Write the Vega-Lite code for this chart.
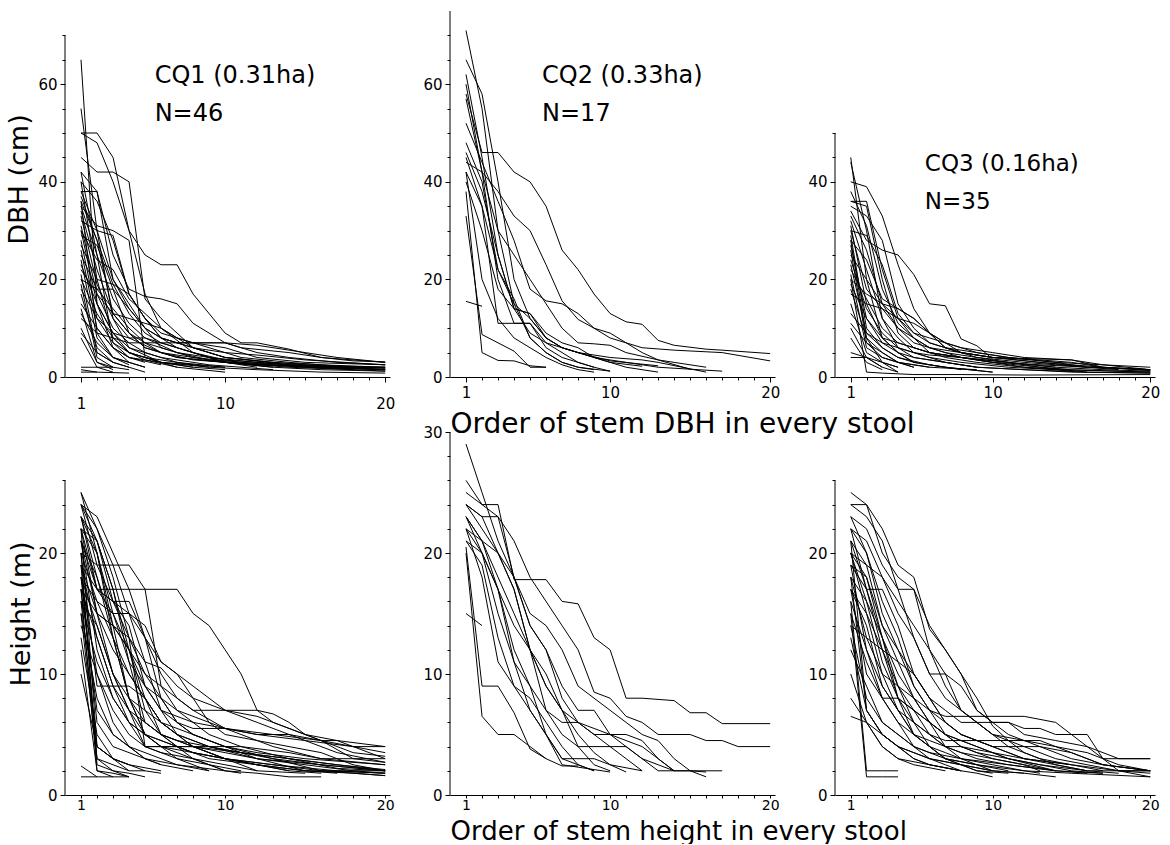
{
"$schema":"https://vega.github.io/schema/vega-lite/v6.json",
"background":"white",
"padding":{"left":5,"top":10,"right":5,"bottom":0},
"config":{"view":{"stroke":null},"axis":{"grid":false,"domainColor":"black","domainWidth":1,"tickColor":"black","tickWidth":1,"labelColor":"black","titleColor":"black","labelFont":"DejaVu Sans","titleFont":"DejaVu Sans","labelFontSize":15,"titleFontWeight":"normal","labelPadding":3,"labelFlush":false,"labelOverlap":false,"tickCount":100}},
"datasets":{
"a":[
{"s":1,"x":1,"y":65},{"s":1,"x":2,"y":15},{"s":1,"x":3,"y":6},{"s":1,"x":4,"y":3},{"s":1,"x":5,"y":2},
{"s":2,"x":1,"y":55},{"s":2,"x":2,"y":30},{"s":2,"x":3,"y":12},{"s":2,"x":4,"y":6},{"s":2,"x":6,"y":3},{"s":2,"x":8,"y":2},{"s":2,"x":10,"y":1.5},
{"s":3,"x":1,"y":50},{"s":3,"x":2,"y":50},{"s":3,"x":3,"y":45},{"s":3,"x":4,"y":30},{"s":3,"x":5,"y":17},{"s":3,"x":6,"y":10},{"s":3,"x":8,"y":5},{"s":3,"x":10,"y":3},{"s":3,"x":13,"y":2},{"s":3,"x":16,"y":1.5},{"s":3,"x":20,"y":1.2},
{"s":4,"x":1,"y":45},{"s":4,"x":2,"y":42},{"s":4,"x":3,"y":42},{"s":4,"x":4,"y":40},{"s":4,"x":5,"y":16},{"s":4,"x":6,"y":12},{"s":4,"x":8,"y":6},{"s":4,"x":10,"y":4},{"s":4,"x":14,"y":2.5},{"s":4,"x":20,"y":1.5},
{"s":5,"x":1,"y":50},{"s":5,"x":2,"y":48},{"s":5,"x":3,"y":40},{"s":5,"x":4,"y":30},{"s":5,"x":5,"y":25},{"s":5,"x":6,"y":23},{"s":5,"x":7,"y":23},{"s":5,"x":8,"y":17},{"s":5,"x":10,"y":9},{"s":5,"x":11,"y":7},{"s":5,"x":12,"y":7},{"s":5,"x":14,"y":5.7},{"s":5,"x":16,"y":4},{"s":5,"x":18,"y":3.3},{"s":5,"x":20,"y":3.1},
{"s":6,"x":1,"y":42},{"s":6,"x":2,"y":38},{"s":6,"x":3,"y":25},{"s":6,"x":4,"y":18},{"s":6,"x":5,"y":16.5},{"s":6,"x":6,"y":16},{"s":6,"x":7,"y":15},{"s":6,"x":8,"y":11},{"s":6,"x":9,"y":9},{"s":6,"x":10,"y":7},{"s":6,"x":12,"y":6.5},{"s":6,"x":15,"y":5},{"s":6,"x":17,"y":4},{"s":6,"x":20,"y":3},
{"s":7,"x":1,"y":40},{"s":7,"x":2,"y":36},{"s":7,"x":3,"y":28},{"s":7,"x":4,"y":17},{"s":7,"x":5,"y":12},{"s":7,"x":6,"y":9},{"s":7,"x":8,"y":7},{"s":7,"x":10,"y":7},{"s":7,"x":12,"y":5},{"s":7,"x":14,"y":4},{"s":7,"x":17,"y":3},{"s":7,"x":20,"y":2.5},
{"s":8,"x":1,"y":38},{"s":8,"x":2,"y":30},{"s":8,"x":3,"y":20},{"s":8,"x":4,"y":14},{"s":8,"x":5,"y":10},{"s":8,"x":6,"y":8},{"s":8,"x":8,"y":6},{"s":8,"x":10,"y":4},{"s":8,"x":13,"y":3},{"s":8,"x":16,"y":2.5},{"s":8,"x":20,"y":2},
{"s":9,"x":1,"y":36},{"s":9,"x":2,"y":28},{"s":9,"x":3,"y":19},{"s":9,"x":4,"y":13},{"s":9,"x":5,"y":9},{"s":9,"x":6,"y":7},{"s":9,"x":8,"y":5},{"s":9,"x":10,"y":3.5},{"s":9,"x":14,"y":2.5},{"s":9,"x":20,"y":2},
{"s":10,"x":1,"y":35},{"s":10,"x":2,"y":25},{"s":10,"x":3,"y":16},{"s":10,"x":4,"y":11},{"s":10,"x":5,"y":8},{"s":10,"x":7,"y":5},{"s":10,"x":9,"y":3.5},{"s":10,"x":12,"y":2.5},{"s":10,"x":20,"y":1.5},
{"s":11,"x":1,"y":34},{"s":11,"x":2,"y":22},{"s":11,"x":3,"y":13},{"s":11,"x":4,"y":9},{"s":11,"x":5,"y":6},{"s":11,"x":7,"y":4},{"s":11,"x":10,"y":3},{"s":11,"x":15,"y":2},{"s":11,"x":20,"y":1.5},
{"s":12,"x":1,"y":33},{"s":12,"x":2,"y":19},{"s":12,"x":3,"y":12},{"s":12,"x":4,"y":8},{"s":12,"x":6,"y":5},{"s":12,"x":8,"y":3.5},{"s":12,"x":12,"y":2.5},{"s":12,"x":20,"y":1.8},
{"s":13,"x":1,"y":32},{"s":13,"x":2,"y":30},{"s":13,"x":3,"y":29},{"s":13,"x":4,"y":17},{"s":13,"x":5,"y":12},{"s":13,"x":6,"y":8},{"s":13,"x":8,"y":6},{"s":13,"x":10,"y":5},{"s":13,"x":12,"y":4.5},{"s":13,"x":15,"y":3.5},{"s":13,"x":20,"y":2.5},
{"s":14,"x":1,"y":31},{"s":14,"x":2,"y":17},{"s":14,"x":3,"y":10},{"s":14,"x":4,"y":7},{"s":14,"x":5,"y":5},{"s":14,"x":7,"y":3},{"s":14,"x":10,"y":2},
{"s":15,"x":1,"y":30},{"s":15,"x":2,"y":15},{"s":15,"x":3,"y":9},{"s":15,"x":4,"y":6},{"s":15,"x":6,"y":4},{"s":15,"x":9,"y":2.5},{"s":15,"x":13,"y":1.5},
{"s":16,"x":1,"y":29},{"s":16,"x":2,"y":27},{"s":16,"x":3,"y":18},{"s":16,"x":4,"y":9},{"s":16,"x":5,"y":6},{"s":16,"x":7,"y":4},{"s":16,"x":10,"y":3},{"s":16,"x":14,"y":2},{"s":16,"x":18,"y":1.5},
{"s":17,"x":1,"y":28},{"s":17,"x":2,"y":12},{"s":17,"x":3,"y":7},{"s":17,"x":4,"y":5},{"s":17,"x":6,"y":3},{"s":17,"x":8,"y":2},
{"s":18,"x":1,"y":27},{"s":18,"x":2,"y":20},{"s":18,"x":3,"y":19},{"s":18,"x":4,"y":17},{"s":18,"x":5,"y":12},{"s":18,"x":6,"y":8},{"s":18,"x":7,"y":6},{"s":18,"x":9,"y":4},{"s":18,"x":12,"y":3},{"s":18,"x":16,"y":2},{"s":18,"x":20,"y":1.5},
{"s":19,"x":1,"y":26},{"s":19,"x":2,"y":10},{"s":19,"x":3,"y":6},{"s":19,"x":4,"y":4},{"s":19,"x":6,"y":2.5},
{"s":20,"x":1,"y":25},{"s":20,"x":2,"y":18},{"s":20,"x":3,"y":14},{"s":20,"x":4,"y":10},{"s":20,"x":5,"y":7},{"s":20,"x":6,"y":5},{"s":20,"x":8,"y":4},{"s":20,"x":11,"y":3},{"s":20,"x":15,"y":2},{"s":20,"x":20,"y":1.2},
{"s":21,"x":1,"y":24},{"s":21,"x":2,"y":8},{"s":21,"x":3,"y":4},{"s":21,"x":4,"y":2.5},
{"s":22,"x":1,"y":23},{"s":22,"x":2,"y":15},{"s":22,"x":3,"y":9},{"s":22,"x":4,"y":5},{"s":22,"x":5,"y":3.5},{"s":22,"x":7,"y":2},
{"s":23,"x":1,"y":22},{"s":23,"x":2,"y":17},{"s":23,"x":3,"y":13},{"s":23,"x":4,"y":12},{"s":23,"x":5,"y":11},{"s":23,"x":6,"y":10},{"s":23,"x":7,"y":8},{"s":23,"x":9,"y":6},{"s":23,"x":11,"y":4},{"s":23,"x":14,"y":3},{"s":23,"x":18,"y":2},{"s":23,"x":20,"y":2},
{"s":24,"x":1,"y":21},{"s":24,"x":2,"y":5},{"s":24,"x":3,"y":3},{"s":24,"x":4,"y":2},
{"s":25,"x":1,"y":20},{"s":25,"x":2,"y":13},{"s":25,"x":3,"y":8},{"s":25,"x":4,"y":5},{"s":25,"x":6,"y":3},{"s":25,"x":9,"y":2},
{"s":26,"x":1,"y":19},{"s":26,"x":2,"y":4},{"s":26,"x":3,"y":2},
{"s":27,"x":1,"y":18},{"s":27,"x":2,"y":12},{"s":27,"x":3,"y":9},{"s":27,"x":4,"y":8},{"s":27,"x":5,"y":8},{"s":27,"x":6,"y":7},{"s":27,"x":8,"y":5},{"s":27,"x":10,"y":3},{"s":27,"x":13,"y":2},
{"s":28,"x":1,"y":17},{"s":28,"x":2,"y":6},{"s":28,"x":3,"y":3},
{"s":29,"x":1,"y":15},{"s":29,"x":2,"y":10},{"s":29,"x":3,"y":6},{"s":29,"x":4,"y":4},{"s":29,"x":5,"y":3},
{"s":30,"x":1,"y":14},{"s":30,"x":2,"y":3},{"s":30,"x":3,"y":1.5},
{"s":31,"x":1,"y":13},{"s":31,"x":2,"y":7},{"s":31,"x":3,"y":4},{"s":31,"x":4,"y":3},
{"s":32,"x":1,"y":12},{"s":32,"x":2,"y":9},{"s":32,"x":3,"y":8},{"s":32,"x":4,"y":7},{"s":32,"x":6,"y":7},{"s":32,"x":8,"y":7},{"s":32,"x":10,"y":6},{"s":32,"x":12,"y":4},{"s":32,"x":15,"y":3},{"s":32,"x":20,"y":2.5},
{"s":33,"x":1,"y":10},{"s":33,"x":2,"y":3},{"s":33,"x":3,"y":2},
{"s":34,"x":1,"y":9},{"s":34,"x":2,"y":5},{"s":34,"x":3,"y":3},{"s":34,"x":4,"y":2},{"s":34,"x":5,"y":1},
{"s":35,"x":1,"y":8},{"s":35,"x":2,"y":2},{"s":35,"x":3,"y":1},
{"s":36,"x":1,"y":2},{"s":36,"x":2,"y":2},{"s":36,"x":3,"y":2},{"s":36,"x":4,"y":1.5},
{"s":37,"x":1,"y":1.5},{"s":37,"x":2,"y":1},
{"s":38,"x":1,"y":1},{"s":38,"x":2,"y":1},{"s":38,"x":4,"y":0.8},
{"s":39,"x":1,"y":40},{"s":39,"x":2,"y":20},{"s":39,"x":3,"y":8},{"s":39,"x":4,"y":5},{"s":39,"x":5,"y":4},{"s":39,"x":7,"y":3},{"s":39,"x":9,"y":2},{"s":39,"x":12,"y":1.5},{"s":39,"x":16,"y":1},{"s":39,"x":20,"y":0.8},
{"s":40,"x":1,"y":42},{"s":40,"x":2,"y":25},{"s":40,"x":3,"y":7},{"s":40,"x":4,"y":4},{"s":40,"x":6,"y":3},{"s":40,"x":8,"y":2.5},{"s":40,"x":10,"y":2},
{"s":41,"x":1,"y":38},{"s":41,"x":2,"y":38},{"s":41,"x":3,"y":20},{"s":41,"x":4,"y":15},{"s":41,"x":5,"y":10},{"s":41,"x":6,"y":6},{"s":41,"x":8,"y":4},{"s":41,"x":10,"y":3},{"s":41,"x":12,"y":2},
{"s":42,"x":1,"y":37},{"s":42,"x":2,"y":28},{"s":42,"x":3,"y":13},{"s":42,"x":4,"y":9},{"s":42,"x":5,"y":7},{"s":42,"x":7,"y":5},{"s":42,"x":9,"y":4},{"s":42,"x":11,"y":3},{"s":42,"x":14,"y":2.5},{"s":42,"x":18,"y":2},{"s":42,"x":20,"y":1.8},
{"s":43,"x":1,"y":36},{"s":43,"x":2,"y":9},{"s":43,"x":3,"y":4},{"s":43,"x":4,"y":3},{"s":43,"x":5,"y":2},
{"s":44,"x":1,"y":30},{"s":44,"x":2,"y":24},{"s":44,"x":3,"y":22},{"s":44,"x":4,"y":16},{"s":44,"x":5,"y":13},{"s":44,"x":6,"y":10},{"s":44,"x":7,"y":8},{"s":44,"x":8,"y":6},{"s":44,"x":10,"y":4},{"s":44,"x":13,"y":3},{"s":44,"x":17,"y":2},{"s":44,"x":20,"y":1.5},
{"s":45,"x":1,"y":35},{"s":45,"x":2,"y":31},{"s":45,"x":3,"y":30},{"s":45,"x":4,"y":28},{"s":45,"x":5,"y":4},{"s":45,"x":7,"y":2},{"s":45,"x":10,"y":1},
{"s":46,"x":1,"y":20},{"s":46,"x":2,"y":18},{"s":46,"x":3,"y":18},{"s":46,"x":4,"y":14},{"s":46,"x":5,"y":10},{"s":46,"x":6,"y":8},{"s":46,"x":7,"y":7},{"s":46,"x":10,"y":7},{"s":46,"x":11,"y":6},{"s":46,"x":14,"y":5},{"s":46,"x":16,"y":4},{"s":46,"x":20,"y":3}
],
"b":[
{"s":1,"x":1,"y":71},{"s":1,"x":2,"y":55},{"s":1,"x":3,"y":30},{"s":1,"x":4,"y":15},{"s":1,"x":5,"y":8},{"s":1,"x":6,"y":5},{"s":1,"x":7,"y":3},{"s":1,"x":8,"y":2},{"s":1,"x":10,"y":1.2},
{"s":2,"x":1,"y":65},{"s":2,"x":2,"y":58},{"s":2,"x":3,"y":40},{"s":2,"x":4,"y":20},{"s":2,"x":5,"y":12},{"s":2,"x":6,"y":8},{"s":2,"x":7,"y":6},{"s":2,"x":9,"y":4},{"s":2,"x":11,"y":3},{"s":2,"x":13,"y":2},{"s":2,"x":17,"y":1.2},
{"s":3,"x":1,"y":62},{"s":3,"x":2,"y":45},{"s":3,"x":3,"y":25},{"s":3,"x":4,"y":14},{"s":3,"x":5,"y":9},{"s":3,"x":6,"y":7},{"s":3,"x":8,"y":5},{"s":3,"x":10,"y":4},{"s":3,"x":12,"y":3.5},{"s":3,"x":13,"y":3},{"s":3,"x":16,"y":1},
{"s":4,"x":1,"y":58},{"s":4,"x":2,"y":46},{"s":4,"x":3,"y":46},{"s":4,"x":4,"y":42},{"s":4,"x":5,"y":40},{"s":4,"x":6,"y":35},{"s":4,"x":7,"y":26},{"s":4,"x":8,"y":22},{"s":4,"x":9,"y":17},{"s":4,"x":10,"y":13},{"s":4,"x":11,"y":11.3},{"s":4,"x":12,"y":10.8},{"s":4,"x":13,"y":7.5},{"s":4,"x":14,"y":6.5},{"s":4,"x":16,"y":5.7},{"s":4,"x":17,"y":5.5},{"s":4,"x":20,"y":4.8},
{"s":5,"x":1,"y":57},{"s":5,"x":2,"y":42},{"s":5,"x":3,"y":38},{"s":5,"x":4,"y":33},{"s":5,"x":5,"y":30},{"s":5,"x":6,"y":23},{"s":5,"x":7,"y":15.6},{"s":5,"x":8,"y":11.8},{"s":5,"x":9,"y":10},{"s":5,"x":10,"y":8},{"s":5,"x":12,"y":6},{"s":5,"x":14,"y":5.5},{"s":5,"x":17,"y":5},{"s":5,"x":20,"y":3.3},
{"s":6,"x":1,"y":52},{"s":6,"x":2,"y":44},{"s":6,"x":3,"y":36},{"s":6,"x":4,"y":28},{"s":6,"x":5,"y":18},{"s":6,"x":6,"y":15.6},{"s":6,"x":7,"y":15},{"s":6,"x":8,"y":13},{"s":6,"x":9,"y":10},{"s":6,"x":10,"y":9},{"s":6,"x":11,"y":7},{"s":6,"x":12,"y":5},{"s":6,"x":13,"y":3.5},{"s":6,"x":15,"y":1.6},
{"s":7,"x":1,"y":48},{"s":7,"x":2,"y":40},{"s":7,"x":3,"y":22},{"s":7,"x":4,"y":15},{"s":7,"x":5,"y":12},{"s":7,"x":6,"y":8},{"s":7,"x":7,"y":6},{"s":7,"x":8,"y":5},{"s":7,"x":9,"y":4},{"s":7,"x":10,"y":3},{"s":7,"x":12,"y":2.2},
{"s":8,"x":1,"y":46},{"s":8,"x":2,"y":38},{"s":8,"x":3,"y":25},{"s":8,"x":4,"y":14},{"s":8,"x":5,"y":13},{"s":8,"x":6,"y":9},{"s":8,"x":7,"y":7},{"s":8,"x":8,"y":6},{"s":8,"x":9,"y":4},{"s":8,"x":11,"y":2},{"s":8,"x":13,"y":1},
{"s":9,"x":1,"y":44},{"s":9,"x":2,"y":42},{"s":9,"x":3,"y":20},{"s":9,"x":4,"y":11},{"s":9,"x":5,"y":11},{"s":9,"x":6,"y":7},{"s":9,"x":7,"y":5},{"s":9,"x":8,"y":3},{"s":9,"x":9,"y":2},{"s":9,"x":10,"y":1.2},
{"s":10,"x":1,"y":42},{"s":10,"x":2,"y":35},{"s":10,"x":3,"y":22},{"s":10,"x":4,"y":16},{"s":10,"x":5,"y":8},{"s":10,"x":6,"y":5},{"s":10,"x":7,"y":3},{"s":10,"x":8,"y":2},{"s":10,"x":9,"y":1.5},
{"s":11,"x":1,"y":40},{"s":11,"x":2,"y":30},{"s":11,"x":3,"y":18},{"s":11,"x":4,"y":14},{"s":11,"x":5,"y":13},{"s":11,"x":6,"y":8},{"s":11,"x":7,"y":6},{"s":11,"x":8,"y":5},{"s":11,"x":10,"y":3.3},{"s":11,"x":13,"y":2.3},
{"s":12,"x":1,"y":38},{"s":12,"x":2,"y":5},{"s":12,"x":3,"y":3.4},{"s":12,"x":4,"y":3.3},{"s":12,"x":5,"y":2.3},{"s":12,"x":6,"y":2},
{"s":13,"x":1,"y":33},{"s":13,"x":2,"y":8.7},{"s":13,"x":3,"y":7},{"s":13,"x":4,"y":5.3},{"s":13,"x":5,"y":2},{"s":13,"x":6,"y":2},
{"s":14,"x":1,"y":15.5},{"s":14,"x":2,"y":14.5},
{"s":15,"x":1,"y":45},{"s":15,"x":2,"y":35},{"s":15,"x":3,"y":11},{"s":15,"x":4,"y":11},{"s":15,"x":5,"y":11},{"s":15,"x":6,"y":6},{"s":15,"x":7,"y":4},{"s":15,"x":8,"y":3},{"s":15,"x":9,"y":2},
{"s":16,"x":1,"y":60},{"s":16,"x":2,"y":42},{"s":16,"x":3,"y":30},{"s":16,"x":4,"y":25},{"s":16,"x":5,"y":20},{"s":16,"x":6,"y":15},{"s":16,"x":7,"y":10},{"s":16,"x":8,"y":7},{"s":16,"x":9,"y":6.8},{"s":16,"x":10,"y":6.5},{"s":16,"x":11,"y":5},{"s":16,"x":13,"y":3.5},{"s":16,"x":14,"y":3},{"s":16,"x":16,"y":2},
{"s":17,"x":1,"y":42},{"s":17,"x":2,"y":20},{"s":17,"x":3,"y":12},{"s":17,"x":4,"y":8},{"s":17,"x":5,"y":6},{"s":17,"x":6,"y":4},{"s":17,"x":7,"y":2.5},{"s":17,"x":8,"y":1.5},{"s":17,"x":9,"y":1}
],
"c":[
{"s":1,"x":1,"y":45},{"s":1,"x":2,"y":20},{"s":1,"x":3,"y":8},{"s":1,"x":4,"y":5},{"s":1,"x":5,"y":3},{"s":1,"x":7,"y":2},{"s":1,"x":10,"y":1},
{"s":2,"x":1,"y":44},{"s":2,"x":2,"y":30},{"s":2,"x":3,"y":12},{"s":2,"x":4,"y":6},{"s":2,"x":5,"y":4},{"s":2,"x":7,"y":3},{"s":2,"x":9,"y":2},{"s":2,"x":12,"y":1.5},{"s":2,"x":15,"y":1},{"s":2,"x":20,"y":0.8},
{"s":3,"x":1,"y":40},{"s":3,"x":2,"y":39},{"s":3,"x":3,"y":33},{"s":3,"x":4,"y":23},{"s":3,"x":5,"y":14},{"s":3,"x":6,"y":9},{"s":3,"x":7,"y":6},{"s":3,"x":8,"y":5},{"s":3,"x":10,"y":4},{"s":3,"x":13,"y":3},{"s":3,"x":16,"y":2},{"s":3,"x":20,"y":1.5},
{"s":4,"x":1,"y":36},{"s":4,"x":2,"y":36},{"s":4,"x":3,"y":22},{"s":4,"x":4,"y":12},{"s":4,"x":5,"y":8},{"s":4,"x":6,"y":6},{"s":4,"x":8,"y":4},{"s":4,"x":11,"y":3},{"s":4,"x":14,"y":2},{"s":4,"x":17,"y":1.5},{"s":4,"x":20,"y":1.2},
{"s":5,"x":1,"y":35},{"s":5,"x":2,"y":33},{"s":5,"x":3,"y":28},{"s":5,"x":4,"y":15},{"s":5,"x":5,"y":10},{"s":5,"x":6,"y":7},{"s":5,"x":8,"y":5},{"s":5,"x":10,"y":4},{"s":5,"x":13,"y":3.5},{"s":5,"x":15,"y":3},{"s":5,"x":17,"y":2},{"s":5,"x":20,"y":1.5},
{"s":6,"x":1,"y":34},{"s":6,"x":2,"y":28},{"s":6,"x":3,"y":26},{"s":6,"x":4,"y":25},{"s":6,"x":5,"y":21},{"s":6,"x":6,"y":15},{"s":6,"x":7,"y":14.6},{"s":6,"x":8,"y":7.8},{"s":6,"x":9,"y":6.4},{"s":6,"x":10,"y":3.7},
{"s":7,"x":1,"y":33},{"s":7,"x":2,"y":26},{"s":7,"x":3,"y":15},{"s":7,"x":4,"y":10},{"s":7,"x":5,"y":7},{"s":7,"x":6,"y":6},{"s":7,"x":8,"y":5},{"s":7,"x":10,"y":4},{"s":7,"x":12,"y":3.8},{"s":7,"x":15,"y":3.5},{"s":7,"x":17,"y":2.5},{"s":7,"x":20,"y":1.5},
{"s":8,"x":1,"y":32},{"s":8,"x":2,"y":22},{"s":8,"x":3,"y":12},{"s":8,"x":4,"y":8},{"s":8,"x":5,"y":5},{"s":8,"x":7,"y":3},{"s":8,"x":9,"y":2},{"s":8,"x":12,"y":1.5},{"s":8,"x":16,"y":1},
{"s":9,"x":1,"y":31},{"s":9,"x":2,"y":15},{"s":9,"x":3,"y":8},{"s":9,"x":4,"y":5},{"s":9,"x":5,"y":3},{"s":9,"x":7,"y":2},{"s":9,"x":10,"y":1},
{"s":10,"x":1,"y":30},{"s":10,"x":2,"y":18},{"s":10,"x":3,"y":14},{"s":10,"x":4,"y":12},{"s":10,"x":5,"y":11},{"s":10,"x":6,"y":9},{"s":10,"x":7,"y":7},{"s":10,"x":8,"y":5},{"s":10,"x":10,"y":4},{"s":10,"x":13,"y":3},{"s":10,"x":17,"y":2},{"s":10,"x":20,"y":1.3},
{"s":11,"x":1,"y":29},{"s":11,"x":2,"y":10},{"s":11,"x":3,"y":6},{"s":11,"x":4,"y":4},{"s":11,"x":6,"y":2.5},{"s":11,"x":8,"y":1.5},
{"s":12,"x":1,"y":28},{"s":12,"x":2,"y":24},{"s":12,"x":3,"y":16},{"s":12,"x":4,"y":14},{"s":12,"x":5,"y":12},{"s":12,"x":6,"y":9},{"s":12,"x":7,"y":6},{"s":12,"x":9,"y":4},{"s":12,"x":12,"y":3},{"s":12,"x":14,"y":2.5},{"s":12,"x":18,"y":1.5},
{"s":13,"x":1,"y":27},{"s":13,"x":2,"y":12},{"s":13,"x":3,"y":8},{"s":13,"x":4,"y":7},{"s":13,"x":5,"y":6},{"s":13,"x":7,"y":4},{"s":13,"x":9,"y":3},{"s":13,"x":12,"y":2},{"s":13,"x":15,"y":1.2},
{"s":14,"x":1,"y":26},{"s":14,"x":2,"y":7},{"s":14,"x":3,"y":5},{"s":14,"x":4,"y":3},{"s":14,"x":5,"y":2},
{"s":15,"x":1,"y":25},{"s":15,"x":2,"y":20},{"s":15,"x":3,"y":15},{"s":15,"x":4,"y":12},{"s":15,"x":5,"y":9},{"s":15,"x":6,"y":7},{"s":15,"x":7,"y":6},{"s":15,"x":9,"y":5},{"s":15,"x":11,"y":4},{"s":15,"x":14,"y":3},{"s":15,"x":16,"y":2},
{"s":16,"x":1,"y":24},{"s":16,"x":2,"y":14},{"s":16,"x":3,"y":9},{"s":16,"x":4,"y":6},{"s":16,"x":5,"y":5},{"s":16,"x":6,"y":4},{"s":16,"x":8,"y":3},{"s":16,"x":11,"y":2},{"s":16,"x":14,"y":1.5},{"s":16,"x":20,"y":1},
{"s":17,"x":1,"y":23},{"s":17,"x":2,"y":9},{"s":17,"x":3,"y":6},{"s":17,"x":4,"y":4},{"s":17,"x":5,"y":3},
{"s":18,"x":1,"y":22},{"s":18,"x":2,"y":16},{"s":18,"x":3,"y":10},{"s":18,"x":4,"y":7},{"s":18,"x":6,"y":5},{"s":18,"x":8,"y":4},{"s":18,"x":10,"y":3},{"s":18,"x":13,"y":2.5},{"s":18,"x":16,"y":2},{"s":18,"x":20,"y":1.5},
{"s":19,"x":1,"y":21},{"s":19,"x":2,"y":6},{"s":19,"x":3,"y":4},{"s":19,"x":4,"y":3},{"s":19,"x":6,"y":2},{"s":19,"x":9,"y":1.5},
{"s":20,"x":1,"y":20},{"s":20,"x":2,"y":17},{"s":20,"x":3,"y":15},{"s":20,"x":4,"y":14},{"s":20,"x":5,"y":12},{"s":20,"x":6,"y":9},{"s":20,"x":7,"y":7},{"s":20,"x":9,"y":5},{"s":20,"x":11,"y":4},{"s":20,"x":14,"y":3},{"s":20,"x":20,"y":2},
{"s":21,"x":1,"y":19},{"s":21,"x":2,"y":12},{"s":21,"x":3,"y":7},{"s":21,"x":4,"y":5},{"s":21,"x":5,"y":4},{"s":21,"x":7,"y":3},{"s":21,"x":9,"y":2},
{"s":22,"x":1,"y":18},{"s":22,"x":2,"y":8},{"s":22,"x":3,"y":5},{"s":22,"x":4,"y":3},{"s":22,"x":5,"y":2},
{"s":23,"x":1,"y":17},{"s":23,"x":2,"y":15},{"s":23,"x":3,"y":14},{"s":23,"x":4,"y":10},{"s":23,"x":5,"y":8},{"s":23,"x":6,"y":5},{"s":23,"x":8,"y":4},{"s":23,"x":10,"y":3},{"s":23,"x":13,"y":2},{"s":23,"x":15,"y":1.5},
{"s":24,"x":1,"y":15},{"s":24,"x":2,"y":5},{"s":24,"x":3,"y":3},{"s":24,"x":4,"y":2},
{"s":25,"x":1,"y":13},{"s":25,"x":2,"y":9},{"s":25,"x":3,"y":7},{"s":25,"x":4,"y":6},{"s":25,"x":5,"y":5},{"s":25,"x":6,"y":4.5},{"s":25,"x":8,"y":4},{"s":25,"x":11,"y":3},{"s":25,"x":14,"y":2},
{"s":26,"x":1,"y":11},{"s":26,"x":2,"y":7},{"s":26,"x":3,"y":4},{"s":26,"x":4,"y":3},{"s":26,"x":6,"y":2},
{"s":27,"x":1,"y":10},{"s":27,"x":2,"y":4},{"s":27,"x":3,"y":3},{"s":27,"x":4,"y":2},
{"s":28,"x":1,"y":8},{"s":28,"x":2,"y":3},{"s":28,"x":3,"y":1.5},
{"s":29,"x":1,"y":5},{"s":29,"x":2,"y":4},{"s":29,"x":3,"y":2},{"s":29,"x":4,"y":1},
{"s":30,"x":1,"y":4},{"s":30,"x":2,"y":4},{"s":30,"x":3,"y":2},
{"s":31,"x":1,"y":36},{"s":31,"x":2,"y":35},{"s":31,"x":3,"y":20},{"s":31,"x":4,"y":9},{"s":31,"x":5,"y":6},{"s":31,"x":6,"y":5},{"s":31,"x":8,"y":4},{"s":31,"x":10,"y":3},{"s":31,"x":12,"y":2},{"s":31,"x":15,"y":1.5},{"s":31,"x":20,"y":1},
{"s":32,"x":1,"y":30},{"s":32,"x":2,"y":29},{"s":32,"x":3,"y":23},{"s":32,"x":4,"y":13},{"s":32,"x":5,"y":9},{"s":32,"x":6,"y":8},{"s":32,"x":7,"y":7},{"s":32,"x":8,"y":6},{"s":32,"x":10,"y":5},{"s":32,"x":12,"y":4},{"s":32,"x":15,"y":3.5},{"s":32,"x":17,"y":2},{"s":32,"x":20,"y":1.5},
{"s":33,"x":1,"y":28},{"s":33,"x":2,"y":8},{"s":33,"x":3,"y":3},{"s":33,"x":4,"y":1},
{"s":34,"x":1,"y":20},{"s":34,"x":2,"y":1},{"s":34,"x":3,"y":0.8},{"s":34,"x":5,"y":0.5},{"s":34,"x":8,"y":0.5},{"s":34,"x":12,"y":0.4},{"s":34,"x":20,"y":0.5},
{"s":35,"x":1,"y":38},{"s":35,"x":2,"y":31},{"s":35,"x":3,"y":18},{"s":35,"x":4,"y":11},{"s":35,"x":5,"y":8},{"s":35,"x":6,"y":6},{"s":35,"x":7,"y":5},{"s":35,"x":9,"y":4},{"s":35,"x":11,"y":3},{"s":35,"x":13,"y":2},{"s":35,"x":16,"y":1},{"s":35,"x":20,"y":0.8}
],
"d":[
{"s":1,"x":1,"y":25},{"s":1,"x":2,"y":20},{"s":1,"x":3,"y":14},{"s":1,"x":4,"y":8},{"s":1,"x":5,"y":5},{"s":1,"x":6,"y":4},{"s":1,"x":8,"y":3.5},{"s":1,"x":10,"y":3},{"s":1,"x":13,"y":2.5},{"s":1,"x":16,"y":2},{"s":1,"x":20,"y":1.8},
{"s":2,"x":1,"y":24},{"s":2,"x":2,"y":23},{"s":2,"x":3,"y":20},{"s":2,"x":4,"y":17},{"s":2,"x":5,"y":13},{"s":2,"x":6,"y":11},{"s":2,"x":7,"y":10},{"s":2,"x":8,"y":8},{"s":2,"x":9,"y":7.5},{"s":2,"x":10,"y":7},{"s":2,"x":12,"y":6.5},{"s":2,"x":14,"y":5.5},{"s":2,"x":16,"y":4.5},{"s":2,"x":18,"y":3.5},{"s":2,"x":20,"y":3.2},
{"s":3,"x":1,"y":24},{"s":3,"x":2,"y":19},{"s":3,"x":3,"y":19},{"s":3,"x":4,"y":19},{"s":3,"x":5,"y":17},{"s":3,"x":6,"y":17},{"s":3,"x":7,"y":17},{"s":3,"x":8,"y":15},{"s":3,"x":9,"y":14},{"s":3,"x":10,"y":12},{"s":3,"x":11,"y":10},{"s":3,"x":12,"y":7},{"s":3,"x":13,"y":6.7},{"s":3,"x":14,"y":6},{"s":3,"x":15,"y":5},{"s":3,"x":16,"y":4.5},{"s":3,"x":17,"y":4.5},{"s":3,"x":18,"y":4},{"s":3,"x":20,"y":4},
{"s":4,"x":1,"y":23},{"s":4,"x":2,"y":17},{"s":4,"x":3,"y":17},{"s":4,"x":4,"y":17},{"s":4,"x":5,"y":17},{"s":4,"x":6,"y":9},{"s":4,"x":7,"y":7},{"s":4,"x":9,"y":6},{"s":4,"x":11,"y":5},{"s":4,"x":13,"y":4},{"s":4,"x":16,"y":3},{"s":4,"x":20,"y":2.5},
{"s":5,"x":1,"y":23},{"s":5,"x":2,"y":21},{"s":5,"x":3,"y":16},{"s":5,"x":4,"y":16},{"s":5,"x":5,"y":13},{"s":5,"x":6,"y":10},{"s":5,"x":7,"y":8},{"s":5,"x":8,"y":7},{"s":5,"x":10,"y":5.5},{"s":5,"x":12,"y":5},{"s":5,"x":15,"y":4.5},{"s":5,"x":18,"y":4},{"s":5,"x":20,"y":3},
{"s":6,"x":1,"y":22},{"s":6,"x":2,"y":20},{"s":6,"x":3,"y":15},{"s":6,"x":4,"y":15},{"s":6,"x":5,"y":14},{"s":6,"x":6,"y":11},{"s":6,"x":7,"y":10},{"s":6,"x":8,"y":9},{"s":6,"x":9,"y":8},{"s":6,"x":10,"y":7},{"s":6,"x":12,"y":6},{"s":6,"x":14,"y":5},{"s":6,"x":17,"y":3.5},{"s":6,"x":20,"y":2.7},
{"s":7,"x":1,"y":22},{"s":7,"x":2,"y":15},{"s":7,"x":3,"y":10},{"s":7,"x":4,"y":8},{"s":7,"x":5,"y":7},{"s":7,"x":6,"y":6},{"s":7,"x":8,"y":5},{"s":7,"x":10,"y":4},{"s":7,"x":12,"y":3.5},{"s":7,"x":15,"y":3},{"s":7,"x":20,"y":2.5},
{"s":8,"x":1,"y":21},{"s":8,"x":2,"y":18},{"s":8,"x":3,"y":14},{"s":8,"x":4,"y":12},{"s":8,"x":5,"y":9},{"s":8,"x":6,"y":8},{"s":8,"x":7,"y":7},{"s":8,"x":9,"y":5},{"s":8,"x":11,"y":4},{"s":8,"x":14,"y":3},{"s":8,"x":17,"y":2.5},{"s":8,"x":20,"y":2.1},
{"s":9,"x":1,"y":21},{"s":9,"x":2,"y":12},{"s":9,"x":3,"y":8},{"s":9,"x":4,"y":6},{"s":9,"x":5,"y":5},{"s":9,"x":7,"y":4},{"s":9,"x":9,"y":3},{"s":9,"x":12,"y":2.5},{"s":9,"x":15,"y":2},{"s":9,"x":20,"y":2},
{"s":10,"x":1,"y":20},{"s":10,"x":2,"y":16},{"s":10,"x":3,"y":13},{"s":10,"x":4,"y":10},{"s":10,"x":5,"y":8},{"s":10,"x":6,"y":6},{"s":10,"x":7,"y":5},{"s":10,"x":9,"y":4},{"s":10,"x":11,"y":3.5},{"s":10,"x":14,"y":3},{"s":10,"x":17,"y":2.5},{"s":10,"x":20,"y":2},
{"s":11,"x":1,"y":20},{"s":11,"x":2,"y":9},{"s":11,"x":3,"y":9},{"s":11,"x":4,"y":9},{"s":11,"x":5,"y":8},{"s":11,"x":6,"y":6},{"s":11,"x":7,"y":5},{"s":11,"x":9,"y":4},{"s":11,"x":12,"y":3},{"s":11,"x":16,"y":2.5},{"s":11,"x":20,"y":2},
{"s":12,"x":1,"y":19},{"s":12,"x":2,"y":17},{"s":12,"x":3,"y":15},{"s":12,"x":4,"y":11},{"s":12,"x":5,"y":6},{"s":12,"x":6,"y":5},{"s":12,"x":8,"y":4},{"s":12,"x":10,"y":3},{"s":12,"x":13,"y":2.5},{"s":12,"x":17,"y":2},{"s":12,"x":20,"y":1.8},
{"s":13,"x":1,"y":19},{"s":13,"x":2,"y":3},{"s":13,"x":3,"y":2.5},{"s":13,"x":4,"y":2},{"s":13,"x":5,"y":2},
{"s":14,"x":1,"y":18},{"s":14,"x":2,"y":14},{"s":14,"x":3,"y":10},{"s":14,"x":4,"y":7},{"s":14,"x":5,"y":4},{"s":14,"x":6,"y":4},{"s":14,"x":8,"y":4},{"s":14,"x":10,"y":3.5},{"s":14,"x":12,"y":3},{"s":14,"x":15,"y":2.5},{"s":14,"x":18,"y":2},{"s":14,"x":20,"y":1.8},
{"s":15,"x":1,"y":18},{"s":15,"x":2,"y":6},{"s":15,"x":3,"y":4},{"s":15,"x":4,"y":3.5},{"s":15,"x":5,"y":3},{"s":15,"x":7,"y":2.5},{"s":15,"x":10,"y":2},
{"s":16,"x":1,"y":17},{"s":16,"x":2,"y":13},{"s":16,"x":3,"y":9},{"s":16,"x":4,"y":6},{"s":16,"x":5,"y":5},{"s":16,"x":6,"y":4.5},{"s":16,"x":8,"y":3.5},{"s":16,"x":10,"y":3},{"s":16,"x":12,"y":2.5},{"s":16,"x":15,"y":2},{"s":16,"x":18,"y":1.8},{"s":16,"x":20,"y":1.6},
{"s":17,"x":1,"y":17},{"s":17,"x":2,"y":2},{"s":17,"x":3,"y":1.8},{"s":17,"x":4,"y":1.5},
{"s":18,"x":1,"y":16},{"s":18,"x":2,"y":11},{"s":18,"x":3,"y":8},{"s":18,"x":4,"y":6},{"s":18,"x":5,"y":4},{"s":18,"x":7,"y":3},{"s":18,"x":9,"y":2.5},{"s":18,"x":11,"y":2},
{"s":19,"x":1,"y":16},{"s":19,"x":2,"y":4},{"s":19,"x":3,"y":3},{"s":19,"x":4,"y":2.5},{"s":19,"x":6,"y":2},
{"s":20,"x":1,"y":15},{"s":20,"x":2,"y":8},{"s":20,"x":3,"y":5},{"s":20,"x":4,"y":4},{"s":20,"x":5,"y":3.5},{"s":20,"x":7,"y":2.5},{"s":20,"x":9,"y":2},
{"s":21,"x":1,"y":13},{"s":21,"x":2,"y":5},{"s":21,"x":3,"y":3},{"s":21,"x":4,"y":2.5},
{"s":22,"x":1,"y":10},{"s":22,"x":2,"y":4},{"s":22,"x":3,"y":3},{"s":22,"x":4,"y":2},
{"s":23,"x":1,"y":2.4},{"s":23,"x":2,"y":1.5},
{"s":24,"x":1,"y":1.5},{"s":24,"x":2,"y":1.5},{"s":24,"x":3,"y":1.5},{"s":24,"x":4,"y":1.5},
{"s":25,"x":1,"y":24},{"s":25,"x":2,"y":22},{"s":25,"x":3,"y":18},{"s":25,"x":4,"y":13},{"s":25,"x":5,"y":11},{"s":25,"x":6,"y":10.5},{"s":25,"x":7,"y":9},{"s":25,"x":8,"y":8},{"s":25,"x":9,"y":6},{"s":25,"x":10,"y":5},{"s":25,"x":12,"y":4.5},{"s":25,"x":14,"y":4},{"s":25,"x":16,"y":3.5},{"s":25,"x":18,"y":2.5},{"s":25,"x":20,"y":2},
{"s":26,"x":1,"y":23},{"s":26,"x":2,"y":20},{"s":26,"x":3,"y":13},{"s":26,"x":4,"y":8},{"s":26,"x":5,"y":6},{"s":26,"x":6,"y":5},{"s":26,"x":7,"y":4.5},{"s":26,"x":9,"y":4},{"s":26,"x":11,"y":3.5},{"s":26,"x":13,"y":3},{"s":26,"x":16,"y":2.5},{"s":26,"x":20,"y":2},
{"s":27,"x":1,"y":22},{"s":27,"x":2,"y":17},{"s":27,"x":3,"y":16},{"s":27,"x":4,"y":14},{"s":27,"x":5,"y":9},{"s":27,"x":6,"y":7},{"s":27,"x":7,"y":6},{"s":27,"x":8,"y":5.5},{"s":27,"x":10,"y":5.5},{"s":27,"x":13,"y":5},{"s":27,"x":16,"y":4.5},{"s":27,"x":18,"y":4},{"s":27,"x":20,"y":3.5},
{"s":28,"x":1,"y":21},{"s":28,"x":2,"y":15},{"s":28,"x":3,"y":14},{"s":28,"x":4,"y":13},{"s":28,"x":5,"y":4},{"s":28,"x":6,"y":4},{"s":28,"x":8,"y":4},{"s":28,"x":11,"y":4},{"s":28,"x":14,"y":3.5},{"s":28,"x":16,"y":3},{"s":28,"x":18,"y":3},{"s":28,"x":20,"y":2.7},
{"s":29,"x":1,"y":20},{"s":29,"x":2,"y":19},{"s":29,"x":3,"y":16},{"s":29,"x":4,"y":13},{"s":29,"x":5,"y":10},{"s":29,"x":6,"y":8},{"s":29,"x":7,"y":6},{"s":29,"x":8,"y":5},{"s":29,"x":10,"y":4},{"s":29,"x":12,"y":3},{"s":29,"x":15,"y":2},{"s":29,"x":17,"y":1.8},
{"s":30,"x":1,"y":19},{"s":30,"x":2,"y":15},{"s":30,"x":3,"y":14},{"s":30,"x":4,"y":12},{"s":30,"x":5,"y":7},{"s":30,"x":6,"y":5},{"s":30,"x":7,"y":4},{"s":30,"x":8,"y":3.5},{"s":30,"x":10,"y":3},{"s":30,"x":12,"y":2.5},{"s":30,"x":14,"y":2},
{"s":31,"x":1,"y":25},{"s":31,"x":2,"y":22},{"s":31,"x":3,"y":19},{"s":31,"x":4,"y":15},{"s":31,"x":5,"y":11},{"s":31,"x":6,"y":7},{"s":31,"x":7,"y":5},{"s":31,"x":8,"y":4},{"s":31,"x":10,"y":3},{"s":31,"x":12,"y":2.5},{"s":31,"x":14,"y":2},{"s":31,"x":16,"y":1.8},
{"s":32,"x":1,"y":18},{"s":32,"x":2,"y":16},{"s":32,"x":3,"y":15},{"s":32,"x":4,"y":12},{"s":32,"x":5,"y":8},{"s":32,"x":6,"y":6},{"s":32,"x":7,"y":5},{"s":32,"x":8,"y":4},{"s":32,"x":9,"y":3.5},{"s":32,"x":10,"y":3},{"s":32,"x":11,"y":2.5},{"s":32,"x":12,"y":2},
{"s":33,"x":1,"y":17},{"s":33,"x":2,"y":15},{"s":33,"x":3,"y":12},{"s":33,"x":4,"y":10},{"s":33,"x":5,"y":8},{"s":33,"x":6,"y":5},{"s":33,"x":7,"y":4},{"s":33,"x":8,"y":3},{"s":33,"x":9,"y":2.5},{"s":33,"x":10,"y":2},{"s":33,"x":11,"y":1.8},
{"s":34,"x":1,"y":16},{"s":34,"x":2,"y":14},{"s":34,"x":3,"y":10},{"s":34,"x":4,"y":7},{"s":34,"x":5,"y":5},{"s":34,"x":6,"y":4},{"s":34,"x":7,"y":3},{"s":34,"x":8,"y":2.5},{"s":34,"x":9,"y":2},
{"s":35,"x":1,"y":22},{"s":35,"x":2,"y":4},{"s":35,"x":3,"y":3},{"s":35,"x":4,"y":2.5},{"s":35,"x":5,"y":2},{"s":35,"x":6,"y":1.8},
{"s":36,"x":1,"y":20},{"s":36,"x":2,"y":2.5},{"s":36,"x":3,"y":2},{"s":36,"x":4,"y":1.5},
{"s":37,"x":1,"y":24},{"s":37,"x":2,"y":21},{"s":37,"x":3,"y":17},{"s":37,"x":4,"y":11},{"s":37,"x":5,"y":9},{"s":37,"x":6,"y":7},{"s":37,"x":8,"y":6},{"s":37,"x":10,"y":5.5},{"s":37,"x":12,"y":5},{"s":37,"x":14,"y":5},{"s":37,"x":16,"y":4.5},{"s":37,"x":18,"y":3},{"s":37,"x":20,"y":3},
{"s":38,"x":1,"y":23},{"s":38,"x":2,"y":18},{"s":38,"x":3,"y":13},{"s":38,"x":4,"y":8},{"s":38,"x":5,"y":5},{"s":38,"x":6,"y":4},{"s":38,"x":7,"y":3.5},{"s":38,"x":8,"y":3},{"s":38,"x":9,"y":2.5},{"s":38,"x":10,"y":2},{"s":38,"x":12,"y":1.8},{"s":38,"x":14,"y":1.5},{"s":38,"x":16,"y":1.5},
{"s":39,"x":1,"y":21},{"s":39,"x":2,"y":17},{"s":39,"x":3,"y":16},{"s":39,"x":4,"y":15},{"s":39,"x":5,"y":13},{"s":39,"x":6,"y":8},{"s":39,"x":7,"y":6},{"s":39,"x":8,"y":5},{"s":39,"x":10,"y":4},{"s":39,"x":13,"y":3},{"s":39,"x":16,"y":2},{"s":39,"x":20,"y":1.6},
{"s":40,"x":1,"y":19},{"s":40,"x":2,"y":13},{"s":40,"x":3,"y":9},{"s":40,"x":4,"y":7},{"s":40,"x":5,"y":6},{"s":40,"x":6,"y":5},{"s":40,"x":8,"y":4},{"s":40,"x":11,"y":3.5},{"s":40,"x":14,"y":3},{"s":40,"x":17,"y":2.2},{"s":40,"x":20,"y":2},
{"s":41,"x":1,"y":18},{"s":41,"x":2,"y":10},{"s":41,"x":3,"y":7},{"s":41,"x":4,"y":5},{"s":41,"x":5,"y":4},{"s":41,"x":6,"y":3.5},{"s":41,"x":8,"y":3},{"s":41,"x":10,"y":2.5},{"s":41,"x":12,"y":2},{"s":41,"x":15,"y":1.8},
{"s":42,"x":1,"y":17},{"s":42,"x":2,"y":7},{"s":42,"x":3,"y":5},{"s":42,"x":4,"y":4},{"s":42,"x":5,"y":3},{"s":42,"x":6,"y":2.5},{"s":42,"x":8,"y":2},
{"s":43,"x":1,"y":15},{"s":43,"x":2,"y":3},{"s":43,"x":3,"y":2},{"s":43,"x":4,"y":1.8},{"s":43,"x":5,"y":1.5},
{"s":44,"x":1,"y":14},{"s":44,"x":2,"y":10},{"s":44,"x":3,"y":6},{"s":44,"x":4,"y":4},{"s":44,"x":5,"y":3},{"s":44,"x":6,"y":2.5},
{"s":45,"x":1,"y":12},{"s":45,"x":2,"y":2},{"s":45,"x":3,"y":1.5},
{"s":46,"x":1,"y":22},{"s":46,"x":2,"y":21},{"s":46,"x":3,"y":17},{"s":46,"x":4,"y":12},{"s":46,"x":5,"y":10},{"s":46,"x":6,"y":9},{"s":46,"x":7,"y":8},{"s":46,"x":8,"y":7},{"s":46,"x":10,"y":7},{"s":46,"x":12,"y":7},{"s":46,"x":13,"y":6},{"s":46,"x":15,"y":5},{"s":46,"x":17,"y":4.5},{"s":46,"x":20,"y":4}
],
"e":[
{"s":1,"x":1,"y":29},{"s":1,"x":2,"y":25},{"s":1,"x":3,"y":21},{"s":1,"x":4,"y":18},{"s":1,"x":5,"y":14},{"s":1,"x":6,"y":12},{"s":1,"x":7,"y":8},{"s":1,"x":8,"y":6},{"s":1,"x":9,"y":5},{"s":1,"x":10,"y":4},{"s":1,"x":11,"y":3},{"s":1,"x":12,"y":2},
{"s":2,"x":1,"y":26},{"s":2,"x":2,"y":24},{"s":2,"x":3,"y":23},{"s":2,"x":4,"y":21},{"s":2,"x":5,"y":18},{"s":2,"x":6,"y":16},{"s":2,"x":7,"y":14},{"s":2,"x":8,"y":12},{"s":2,"x":9,"y":8.5},{"s":2,"x":10,"y":8},{"s":2,"x":11,"y":6.5},{"s":2,"x":12,"y":6},{"s":2,"x":13,"y":5},{"s":2,"x":15,"y":5},{"s":2,"x":16,"y":4.5},{"s":2,"x":17,"y":4.5},{"s":2,"x":18,"y":4},{"s":2,"x":20,"y":4},
{"s":3,"x":1,"y":25},{"s":3,"x":2,"y":24},{"s":3,"x":3,"y":24},{"s":3,"x":4,"y":17.8},{"s":3,"x":5,"y":17.8},{"s":3,"x":6,"y":17.8},{"s":3,"x":7,"y":16},{"s":3,"x":8,"y":15.8},{"s":3,"x":9,"y":13},{"s":3,"x":10,"y":12},{"s":3,"x":11,"y":8},{"s":3,"x":12,"y":8},{"s":3,"x":14,"y":7.8},{"s":3,"x":15,"y":6.8},{"s":3,"x":16,"y":6.8},{"s":3,"x":17,"y":5.9},{"s":3,"x":20,"y":5.9},
{"s":4,"x":1,"y":24},{"s":4,"x":2,"y":23},{"s":4,"x":3,"y":23},{"s":4,"x":4,"y":18},{"s":4,"x":5,"y":14},{"s":4,"x":6,"y":12},{"s":4,"x":7,"y":9},{"s":4,"x":8,"y":7},{"s":4,"x":9,"y":7},{"s":4,"x":10,"y":5},{"s":4,"x":11,"y":5},{"s":4,"x":12,"y":4.5},{"s":4,"x":13,"y":3},{"s":4,"x":14,"y":2},
{"s":5,"x":1,"y":24},{"s":5,"x":2,"y":22},{"s":5,"x":3,"y":20},{"s":5,"x":4,"y":17},{"s":5,"x":5,"y":12},{"s":5,"x":6,"y":9},{"s":5,"x":7,"y":7},{"s":5,"x":8,"y":4},{"s":5,"x":11,"y":4},{"s":5,"x":12,"y":3},{"s":5,"x":13,"y":2.5},{"s":5,"x":14,"y":2},
{"s":6,"x":1,"y":23},{"s":6,"x":2,"y":21},{"s":6,"x":3,"y":20},{"s":6,"x":4,"y":17},{"s":6,"x":5,"y":12},{"s":6,"x":6,"y":7},{"s":6,"x":7,"y":5},{"s":6,"x":8,"y":4},{"s":6,"x":9,"y":2.5},{"s":6,"x":10,"y":2},
{"s":7,"x":1,"y":23},{"s":7,"x":2,"y":20},{"s":7,"x":3,"y":17},{"s":7,"x":4,"y":12},{"s":7,"x":5,"y":9},{"s":7,"x":6,"y":7},{"s":7,"x":7,"y":6},{"s":7,"x":8,"y":6},{"s":7,"x":9,"y":5},{"s":7,"x":10,"y":5},{"s":7,"x":11,"y":4},{"s":7,"x":12,"y":3},{"s":7,"x":13,"y":2},{"s":7,"x":15,"y":2},{"s":7,"x":16,"y":1.5},
{"s":8,"x":1,"y":22},{"s":8,"x":2,"y":21},{"s":8,"x":3,"y":18},{"s":8,"x":4,"y":15},{"s":8,"x":5,"y":12},{"s":8,"x":6,"y":9},{"s":8,"x":7,"y":7},{"s":8,"x":8,"y":6},{"s":8,"x":9,"y":5.5},{"s":8,"x":10,"y":5},{"s":8,"x":11,"y":4.5},{"s":8,"x":12,"y":4},{"s":8,"x":13,"y":3},{"s":8,"x":14,"y":2},{"s":8,"x":17,"y":2},
{"s":9,"x":1,"y":22},{"s":9,"x":2,"y":20},{"s":9,"x":3,"y":17},{"s":9,"x":4,"y":11},{"s":9,"x":5,"y":9},{"s":9,"x":6,"y":5},{"s":9,"x":7,"y":3},{"s":9,"x":8,"y":2.5},{"s":9,"x":9,"y":2},
{"s":10,"x":1,"y":21},{"s":10,"x":2,"y":20},{"s":10,"x":3,"y":15},{"s":10,"x":4,"y":11},{"s":10,"x":5,"y":7},{"s":10,"x":6,"y":5},{"s":10,"x":7,"y":2.5},{"s":10,"x":8,"y":2.3},{"s":10,"x":10,"y":1.9},
{"s":11,"x":1,"y":21},{"s":11,"x":2,"y":19},{"s":11,"x":3,"y":13},{"s":11,"x":4,"y":9},{"s":11,"x":5,"y":7},{"s":11,"x":6,"y":5},{"s":11,"x":7,"y":3},{"s":11,"x":9,"y":3},{"s":11,"x":10,"y":2.5},{"s":11,"x":11,"y":1.9},
{"s":12,"x":1,"y":20.5},{"s":12,"x":2,"y":9},{"s":12,"x":3,"y":9},{"s":12,"x":4,"y":6.8},{"s":12,"x":5,"y":3.8},{"s":12,"x":6,"y":3},
{"s":13,"x":1,"y":20},{"s":13,"x":2,"y":6.5},{"s":13,"x":3,"y":5},{"s":13,"x":4,"y":5},{"s":13,"x":5,"y":4},{"s":13,"x":6,"y":3},{"s":13,"x":7,"y":2.4},{"s":13,"x":8,"y":2.4},
{"s":14,"x":1,"y":15},{"s":14,"x":2,"y":14},
{"s":15,"x":1,"y":24},{"s":15,"x":2,"y":23},{"s":15,"x":3,"y":20},{"s":15,"x":4,"y":18},{"s":15,"x":5,"y":15},{"s":15,"x":6,"y":14},{"s":15,"x":7,"y":12},{"s":15,"x":8,"y":9},{"s":15,"x":9,"y":8},{"s":15,"x":10,"y":7},{"s":15,"x":11,"y":6},{"s":15,"x":12,"y":5},{"s":15,"x":13,"y":4.5},{"s":15,"x":14,"y":3},{"s":15,"x":15,"y":2},{"s":15,"x":16,"y":1.9},
{"s":16,"x":1,"y":23},{"s":16,"x":2,"y":21},{"s":16,"x":3,"y":17},{"s":16,"x":4,"y":14},{"s":16,"x":5,"y":12},{"s":16,"x":6,"y":10},{"s":16,"x":7,"y":7},{"s":16,"x":8,"y":5},{"s":16,"x":9,"y":3.5},{"s":16,"x":10,"y":2.5},{"s":16,"x":12,"y":2},
{"s":17,"x":1,"y":22},{"s":17,"x":2,"y":18},{"s":17,"x":3,"y":11},{"s":17,"x":4,"y":9},{"s":17,"x":5,"y":8},{"s":17,"x":6,"y":6},{"s":17,"x":7,"y":4},{"s":17,"x":8,"y":2.5},{"s":17,"x":9,"y":2}
],
"f":[
{"s":1,"x":1,"y":25},{"s":1,"x":2,"y":24},{"s":1,"x":3,"y":22},{"s":1,"x":4,"y":19},{"s":1,"x":5,"y":18},{"s":1,"x":6,"y":13.7},{"s":1,"x":7,"y":12},{"s":1,"x":8,"y":10},{"s":1,"x":9,"y":8},{"s":1,"x":10,"y":5.7},{"s":1,"x":11,"y":4.5},{"s":1,"x":12,"y":3.5},{"s":1,"x":14,"y":2.5},{"s":1,"x":16,"y":2},{"s":1,"x":18,"y":2},{"s":1,"x":20,"y":1.5},
{"s":2,"x":1,"y":24},{"s":2,"x":2,"y":24},{"s":2,"x":3,"y":20},{"s":2,"x":4,"y":18},{"s":2,"x":5,"y":17},{"s":2,"x":6,"y":14},{"s":2,"x":7,"y":12},{"s":2,"x":8,"y":10},{"s":2,"x":9,"y":7},{"s":2,"x":10,"y":6},{"s":2,"x":11,"y":6},{"s":2,"x":12,"y":5.5},{"s":2,"x":13,"y":5.5},{"s":2,"x":14,"y":5},{"s":2,"x":16,"y":5},{"s":2,"x":17,"y":3},{"s":2,"x":20,"y":3},
{"s":3,"x":1,"y":23},{"s":3,"x":2,"y":22},{"s":3,"x":3,"y":19},{"s":3,"x":4,"y":17},{"s":3,"x":5,"y":17},{"s":3,"x":6,"y":12},{"s":3,"x":7,"y":10},{"s":3,"x":8,"y":7},{"s":3,"x":9,"y":6},{"s":3,"x":10,"y":5},{"s":3,"x":12,"y":4.5},{"s":3,"x":14,"y":4},{"s":3,"x":16,"y":3.5},{"s":3,"x":18,"y":2.5},{"s":3,"x":20,"y":2},
{"s":4,"x":1,"y":22},{"s":4,"x":2,"y":21},{"s":4,"x":3,"y":18},{"s":4,"x":4,"y":15},{"s":4,"x":5,"y":13},{"s":4,"x":6,"y":10},{"s":4,"x":7,"y":10},{"s":4,"x":8,"y":9},{"s":4,"x":9,"y":7},{"s":4,"x":10,"y":6},{"s":4,"x":11,"y":5},{"s":4,"x":13,"y":4},{"s":4,"x":15,"y":3},{"s":4,"x":17,"y":2.5},{"s":4,"x":20,"y":2},
{"s":5,"x":1,"y":22},{"s":5,"x":2,"y":20},{"s":5,"x":3,"y":15},{"s":5,"x":4,"y":12},{"s":5,"x":5,"y":9},{"s":5,"x":6,"y":7},{"s":5,"x":7,"y":6},{"s":5,"x":8,"y":5},{"s":5,"x":10,"y":4},{"s":5,"x":12,"y":3},{"s":5,"x":15,"y":2.5},{"s":5,"x":18,"y":2},{"s":5,"x":20,"y":2},
{"s":6,"x":1,"y":21},{"s":6,"x":2,"y":19},{"s":6,"x":3,"y":14},{"s":6,"x":4,"y":11},{"s":6,"x":5,"y":8},{"s":6,"x":6,"y":6},{"s":6,"x":7,"y":5},{"s":6,"x":8,"y":4},{"s":6,"x":10,"y":3},{"s":6,"x":12,"y":2.5},{"s":6,"x":14,"y":2},
{"s":7,"x":1,"y":21},{"s":7,"x":2,"y":17},{"s":7,"x":3,"y":12},{"s":7,"x":4,"y":8},{"s":7,"x":5,"y":7},{"s":7,"x":6,"y":6},{"s":7,"x":7,"y":5},{"s":7,"x":8,"y":4.5},{"s":7,"x":9,"y":4},{"s":7,"x":11,"y":3},{"s":7,"x":13,"y":2.5},{"s":7,"x":15,"y":2},{"s":7,"x":17,"y":1.8},
{"s":8,"x":1,"y":20},{"s":8,"x":2,"y":19},{"s":8,"x":3,"y":18},{"s":8,"x":4,"y":16},{"s":8,"x":5,"y":14},{"s":8,"x":6,"y":12},{"s":8,"x":7,"y":9},{"s":8,"x":8,"y":7},{"s":8,"x":9,"y":6},{"s":8,"x":10,"y":5},{"s":8,"x":12,"y":4},{"s":8,"x":14,"y":3},{"s":8,"x":16,"y":2.5},{"s":8,"x":18,"y":2},{"s":8,"x":20,"y":2},
{"s":9,"x":1,"y":20},{"s":9,"x":2,"y":15},{"s":9,"x":3,"y":10},{"s":9,"x":4,"y":7},{"s":9,"x":5,"y":5},{"s":9,"x":6,"y":4},{"s":9,"x":7,"y":3.5},{"s":9,"x":8,"y":3},{"s":9,"x":10,"y":2.5},{"s":9,"x":12,"y":2},{"s":9,"x":13,"y":1.8},
{"s":10,"x":1,"y":19},{"s":10,"x":2,"y":18},{"s":10,"x":3,"y":14},{"s":10,"x":4,"y":12},{"s":10,"x":5,"y":10},{"s":10,"x":6,"y":8},{"s":10,"x":7,"y":7},{"s":10,"x":8,"y":6},{"s":10,"x":11,"y":6},{"s":10,"x":12,"y":5},{"s":10,"x":14,"y":4.5},{"s":10,"x":16,"y":4},{"s":10,"x":18,"y":3},{"s":10,"x":20,"y":3},
{"s":11,"x":1,"y":19},{"s":11,"x":2,"y":17},{"s":11,"x":3,"y":17},{"s":11,"x":4,"y":14},{"s":11,"x":5,"y":10},{"s":11,"x":6,"y":8},{"s":11,"x":7,"y":6},{"s":11,"x":8,"y":5},{"s":11,"x":9,"y":4.5},{"s":11,"x":10,"y":4},{"s":11,"x":13,"y":4},{"s":11,"x":15,"y":3.5},{"s":11,"x":17,"y":2.5},{"s":11,"x":20,"y":2},
{"s":12,"x":1,"y":18},{"s":12,"x":2,"y":16},{"s":12,"x":3,"y":11},{"s":12,"x":4,"y":8},{"s":12,"x":5,"y":6},{"s":12,"x":6,"y":5},{"s":12,"x":7,"y":4},{"s":12,"x":9,"y":3},{"s":12,"x":11,"y":2.5},{"s":12,"x":14,"y":2},{"s":12,"x":16,"y":1.8},
{"s":13,"x":1,"y":18},{"s":13,"x":2,"y":7},{"s":13,"x":3,"y":5},{"s":13,"x":4,"y":4},{"s":13,"x":5,"y":3.5},{"s":13,"x":6,"y":3},{"s":13,"x":8,"y":2.5},{"s":13,"x":10,"y":2},
{"s":14,"x":1,"y":17},{"s":14,"x":2,"y":14},{"s":14,"x":3,"y":9},{"s":14,"x":4,"y":7},{"s":14,"x":5,"y":5},{"s":14,"x":6,"y":4},{"s":14,"x":7,"y":3},{"s":14,"x":8,"y":2.5},{"s":14,"x":9,"y":2},{"s":14,"x":10,"y":1.8},
{"s":15,"x":1,"y":17},{"s":15,"x":2,"y":10},{"s":15,"x":3,"y":8},{"s":15,"x":4,"y":8},{"s":15,"x":5,"y":7},{"s":15,"x":6,"y":6},{"s":15,"x":7,"y":5},{"s":15,"x":9,"y":4},{"s":15,"x":11,"y":3},{"s":15,"x":14,"y":2},{"s":15,"x":17,"y":1.8},
{"s":16,"x":1,"y":16},{"s":16,"x":2,"y":2},{"s":16,"x":3,"y":2},{"s":16,"x":4,"y":2},
{"s":17,"x":1,"y":15},{"s":17,"x":2,"y":1.5},{"s":17,"x":3,"y":1.5},{"s":17,"x":4,"y":1.5},
{"s":18,"x":1,"y":14},{"s":18,"x":2,"y":13},{"s":18,"x":3,"y":12},{"s":18,"x":4,"y":11},{"s":18,"x":5,"y":10},{"s":18,"x":6,"y":8},{"s":18,"x":7,"y":6},{"s":18,"x":8,"y":5},{"s":18,"x":10,"y":4},{"s":18,"x":12,"y":3},{"s":18,"x":15,"y":2.5},
{"s":19,"x":1,"y":14},{"s":19,"x":2,"y":8},{"s":19,"x":3,"y":6},{"s":19,"x":4,"y":5},{"s":19,"x":5,"y":4},{"s":19,"x":6,"y":3.5},{"s":19,"x":8,"y":3},{"s":19,"x":11,"y":2.5},{"s":19,"x":14,"y":2},
{"s":20,"x":1,"y":13},{"s":20,"x":2,"y":7},{"s":20,"x":3,"y":5},{"s":20,"x":4,"y":4},{"s":20,"x":5,"y":3},{"s":20,"x":6,"y":2.5},{"s":20,"x":8,"y":2},
{"s":21,"x":1,"y":12},{"s":21,"x":2,"y":9},{"s":21,"x":3,"y":6},{"s":21,"x":4,"y":5},{"s":21,"x":5,"y":4},{"s":21,"x":7,"y":3},{"s":21,"x":9,"y":2.5},{"s":21,"x":11,"y":2},
{"s":22,"x":1,"y":10},{"s":22,"x":2,"y":6},{"s":22,"x":3,"y":4},{"s":22,"x":4,"y":3},{"s":22,"x":6,"y":2.5},{"s":22,"x":8,"y":2},
{"s":23,"x":1,"y":8},{"s":23,"x":2,"y":6},{"s":23,"x":3,"y":4},{"s":23,"x":4,"y":3},{"s":23,"x":5,"y":2.5},{"s":23,"x":7,"y":2},
{"s":24,"x":1,"y":6.5},{"s":24,"x":2,"y":6},{"s":24,"x":3,"y":5},{"s":24,"x":4,"y":4},{"s":24,"x":5,"y":3},{"s":24,"x":6,"y":2.5},{"s":24,"x":8,"y":2},
{"s":25,"x":1,"y":22},{"s":25,"x":2,"y":17},{"s":25,"x":3,"y":13},{"s":25,"x":4,"y":10},{"s":25,"x":5,"y":8},{"s":25,"x":6,"y":7},{"s":25,"x":7,"y":6.5},{"s":25,"x":12,"y":6.5},{"s":25,"x":14,"y":6},{"s":25,"x":16,"y":4},{"s":25,"x":18,"y":2},{"s":25,"x":20,"y":1.8},
{"s":26,"x":1,"y":23},{"s":26,"x":2,"y":20},{"s":26,"x":3,"y":16},{"s":26,"x":4,"y":13},{"s":26,"x":5,"y":9},{"s":26,"x":6,"y":7},{"s":26,"x":7,"y":5},{"s":26,"x":8,"y":4},{"s":26,"x":9,"y":3.5},{"s":26,"x":11,"y":3},{"s":26,"x":13,"y":2.5},{"s":26,"x":16,"y":2},
{"s":27,"x":1,"y":21},{"s":27,"x":2,"y":7},{"s":27,"x":3,"y":5},{"s":27,"x":4,"y":4},{"s":27,"x":5,"y":3.5},{"s":27,"x":6,"y":3},{"s":27,"x":8,"y":2.5},{"s":27,"x":10,"y":2},{"s":27,"x":12,"y":1.8},
{"s":28,"x":1,"y":20},{"s":28,"x":2,"y":16},{"s":28,"x":3,"y":13},{"s":28,"x":4,"y":9},{"s":28,"x":5,"y":6},{"s":28,"x":6,"y":4},{"s":28,"x":7,"y":3},{"s":28,"x":8,"y":2.5},{"s":28,"x":9,"y":2},{"s":28,"x":11,"y":1.8},
{"s":29,"x":1,"y":19},{"s":29,"x":2,"y":12},{"s":29,"x":3,"y":9},{"s":29,"x":4,"y":7},{"s":29,"x":5,"y":6},{"s":29,"x":6,"y":5},{"s":29,"x":7,"y":4.5},{"s":29,"x":13,"y":4.5},{"s":29,"x":15,"y":3.5},{"s":29,"x":17,"y":2.5},{"s":29,"x":20,"y":2},
{"s":30,"x":1,"y":18},{"s":30,"x":2,"y":13},{"s":30,"x":3,"y":10},{"s":30,"x":4,"y":9},{"s":30,"x":5,"y":8},{"s":30,"x":6,"y":6},{"s":30,"x":7,"y":4},{"s":30,"x":8,"y":3},{"s":30,"x":9,"y":2.5},{"s":30,"x":10,"y":2},{"s":30,"x":12,"y":1.8},{"s":30,"x":14,"y":1.5},
{"s":31,"x":1,"y":16},{"s":31,"x":2,"y":12},{"s":31,"x":3,"y":8},{"s":31,"x":4,"y":6},{"s":31,"x":5,"y":4},{"s":31,"x":6,"y":3},{"s":31,"x":7,"y":2.5},{"s":31,"x":8,"y":2},{"s":31,"x":9,"y":1.8},{"s":31,"x":10,"y":1.5},
{"s":32,"x":1,"y":20},{"s":32,"x":2,"y":18},{"s":32,"x":3,"y":13},{"s":32,"x":4,"y":8},{"s":32,"x":5,"y":5},{"s":32,"x":6,"y":4},{"s":32,"x":7,"y":3},{"s":32,"x":9,"y":2.5},{"s":32,"x":12,"y":2},{"s":32,"x":15,"y":1.8},{"s":32,"x":20,"y":1.5},
{"s":33,"x":1,"y":17},{"s":33,"x":2,"y":15},{"s":33,"x":3,"y":12},{"s":33,"x":4,"y":9},{"s":33,"x":5,"y":7},{"s":33,"x":6,"y":5},{"s":33,"x":7,"y":4},{"s":33,"x":8,"y":3.5},{"s":33,"x":10,"y":3},{"s":33,"x":12,"y":2.5},{"s":33,"x":13,"y":2},
{"s":34,"x":1,"y":24},{"s":34,"x":2,"y":23},{"s":34,"x":3,"y":21},{"s":34,"x":4,"y":17},{"s":34,"x":5,"y":13},{"s":34,"x":6,"y":10},{"s":34,"x":7,"y":8},{"s":34,"x":8,"y":7},{"s":34,"x":9,"y":6},{"s":34,"x":10,"y":5},{"s":34,"x":11,"y":4},{"s":34,"x":13,"y":3},{"s":34,"x":15,"y":2.5},{"s":34,"x":17,"y":2},
{"s":35,"x":1,"y":15},{"s":35,"x":2,"y":11},{"s":35,"x":3,"y":8},{"s":35,"x":4,"y":6},{"s":35,"x":5,"y":5},{"s":35,"x":6,"y":4.5},{"s":35,"x":7,"y":4},{"s":35,"x":8,"y":4},{"s":35,"x":10,"y":3.5},{"s":35,"x":12,"y":3},{"s":35,"x":14,"y":2.5},{"s":35,"x":16,"y":2},{"s":35,"x":18,"y":1.8}
]
},
"columns":3,
"spacing":{"row":55,"column":60},
"bounds":"flush",
"concat":[
{"width":325,"height":366,"layer":[
{"data":{"name":"a"},"mark":{"type":"line","color":"black","strokeWidth":1},"encoding":{
"x":{"field":"x","type":"quantitative","scale":{"domain":[0,20.3],"nice":false,"zero":false},"axis":{"title":null,"format":"d","tickCount":100,"labelOverlap":false,"values":[1,2,3,4,5,6,7,8,9,10,11,12,13,14,15,16,17,18,19,20],"labelExpr":"datum.value==1||datum.value==10||datum.value==20?datum.label:''","tickSize":{"condition":{"test":"datum.value==1||datum.value==10||datum.value==20","value":5},"value":3},"labelPadding":14}},
"y":{"field":"y","type":"quantitative","scale":{"domain":[0,75],"nice":false},"axis":{"title":"DBH (cm)","titleFontSize":27,"titlePadding":4,"titleY":168,"domain":false,"format":"d","tickCount":100,"labelOverlap":false,"values":[0,5,10,15,20,25,30,35,40,45,50,55,60,65,70],"labelExpr":"datum.value%20==0?datum.label:''","tickSize":{"condition":{"test":"datum.value%20==0","value":5},"value":3}}},
"detail":{"field":"s","type":"nominal"}}},
{"data":{"values":[{}]},"mark":{"type":"rule","color":"black","strokeWidth":1},"encoding":{"x":{"datum":0},"y":{"datum":0},"y2":{"datum":70}}},
{"data":{"values":[{}]},"mark":{"type":"text","align":"left","baseline":"alphabetic","font":"DejaVu Sans","fontSize":24,"lineHeight":38,"color":"black"},"encoding":{"x":{"datum":5.6},"y":{"datum":60.2},"text":{"value":["CQ1 (0.31ha)","N=46"]}}}
]},
{"width":325,"height":366,"layer":[
{"data":{"name":"b"},"mark":{"type":"line","color":"black","strokeWidth":1},"encoding":{
"x":{"field":"x","type":"quantitative","scale":{"domain":[0,20.3],"nice":false,"zero":false},"axis":{"title":"Order of stem DBH in every stool","titleFontSize":28,"titleAnchor":"start","titleAlign":"left","titleBaseline":"alphabetic","titleY":55,"format":"d","tickCount":100,"labelOverlap":false,"values":[1,2,3,4,5,6,7,8,9,10,11,12,13,14,15,16,17,18,19,20],"labelExpr":"datum.value==1||datum.value==10||datum.value==20?datum.label:''","tickSize":{"condition":{"test":"datum.value==1||datum.value==10||datum.value==20","value":5},"value":3}}},
"y":{"field":"y","type":"quantitative","scale":{"domain":[0,75],"nice":false},"axis":{"title":null,"domain":false,"format":"d","tickCount":100,"labelOverlap":false,"values":[0,5,10,15,20,25,30,35,40,45,50,55,60,65,70],"labelExpr":"datum.value%20==0?datum.label:''","tickSize":{"condition":{"test":"datum.value%20==0","value":5},"value":3}}},
"detail":{"field":"s","type":"nominal"}}},
{"data":{"values":[{}]},"mark":{"type":"rule","color":"black","strokeWidth":1},"encoding":{"x":{"datum":0},"y":{"datum":0},"y2":{"datum":75}}},
{"data":{"values":[{}]},"mark":{"type":"text","align":"left","baseline":"alphabetic","font":"DejaVu Sans","fontSize":24,"lineHeight":38,"color":"black"},"encoding":{"x":{"datum":5.75},"y":{"datum":60.2},"text":{"value":["CQ2 (0.33ha)","N=17"]}}}
]},
{"width":320,"height":366,"layer":[
{"data":{"name":"c"},"mark":{"type":"line","color":"black","strokeWidth":1},"encoding":{
"x":{"field":"x","type":"quantitative","scale":{"domain":[0,20.3],"nice":false,"zero":false},"axis":{"title":null,"format":"d","tickCount":100,"labelOverlap":false,"values":[1,2,3,4,5,6,7,8,9,10,11,12,13,14,15,16,17,18,19,20],"labelExpr":"datum.value==1||datum.value==10||datum.value==20?datum.label:''","tickSize":{"condition":{"test":"datum.value==1||datum.value==10||datum.value==20","value":5},"value":3}}},
"y":{"field":"y","type":"quantitative","scale":{"domain":[0,75],"nice":false},"axis":{"title":null,"domain":false,"format":"d","tickCount":100,"labelOverlap":false,"values":[0,5,10,15,20,25,30,35,40,45,50],"labelExpr":"datum.value%20==0?datum.label:''","tickSize":{"condition":{"test":"datum.value%20==0","value":5},"value":3}}},
"detail":{"field":"s","type":"nominal"}}},
{"data":{"values":[{}]},"mark":{"type":"rule","color":"black","strokeWidth":1},"encoding":{"x":{"datum":0},"y":{"datum":0},"y2":{"datum":50}}},
{"data":{"values":[{}]},"mark":{"type":"text","align":"left","baseline":"alphabetic","font":"DejaVu Sans","fontSize":23,"lineHeight":38,"color":"black"},"encoding":{"x":{"datum":5.7},"y":{"datum":42.2},"text":{"value":["CQ3 (0.16ha)","N=35"]}}}
]},
{"width":325,"height":363,"layer":[
{"data":{"name":"d"},"mark":{"type":"line","color":"black","strokeWidth":1},"encoding":{
"x":{"field":"x","type":"quantitative","scale":{"domain":[0,20.3],"nice":false,"zero":false},"axis":{"title":null,"format":"d","tickCount":100,"labelOverlap":false,"labelPadding":0,"labelFontSize":14,"tickSize":3,"values":[1,2,3,4,5,6,7,8,9,10,11,12,13,14,15,16,17,18,19,20],"labelExpr":"datum.value==1||datum.value==10||datum.value==20?datum.label:''"}},
"y":{"field":"y","type":"quantitative","scale":{"domain":[0,30],"nice":false},"axis":{"title":"Height (m)","titleFontSize":27,"titlePadding":2,"domain":false,"format":"d","tickCount":100,"labelOverlap":false,"values":[0,2,4,6,8,10,12,14,16,18,20,22,24,26],"labelExpr":"datum.value%10==0?datum.label:''","tickSize":{"condition":{"test":"datum.value%10==0","value":5},"value":3}}},
"detail":{"field":"s","type":"nominal"}}},
{"data":{"values":[{}]},"mark":{"type":"rule","color":"black","strokeWidth":1},"encoding":{"x":{"datum":0},"y":{"datum":0},"y2":{"datum":26}}}
]},
{"width":325,"height":363,"layer":[
{"data":{"name":"e"},"mark":{"type":"line","color":"black","strokeWidth":1},"encoding":{
"x":{"field":"x","type":"quantitative","scale":{"domain":[0,20.3],"nice":false,"zero":false},"axis":{"title":"Order of stem height in every stool","titleFontSize":26,"titleAnchor":"start","titleAlign":"left","titleBaseline":"alphabetic","titleY":44,"format":"d","tickCount":100,"labelOverlap":false,"labelPadding":0,"labelFontSize":14,"tickSize":3,"values":[1,2,3,4,5,6,7,8,9,10,11,12,13,14,15,16,17,18,19,20],"labelExpr":"datum.value==1||datum.value==10||datum.value==20?datum.label:''"}},
"y":{"field":"y","type":"quantitative","scale":{"domain":[0,30],"nice":false},"axis":{"title":null,"domain":false,"format":"d","tickCount":100,"labelOverlap":false,"values":[0,2,4,6,8,10,12,14,16,18,20,22,24,26,28,30],"labelExpr":"datum.value%10==0?datum.label:''","tickSize":{"condition":{"test":"datum.value%10==0","value":5},"value":3}}},
"detail":{"field":"s","type":"nominal"}}},
{"data":{"values":[{}]},"mark":{"type":"rule","color":"black","strokeWidth":1},"encoding":{"x":{"datum":0},"y":{"datum":0},"y2":{"datum":30}}}
]},
{"width":320,"height":363,"layer":[
{"data":{"name":"f"},"mark":{"type":"line","color":"black","strokeWidth":1},"encoding":{
"x":{"field":"x","type":"quantitative","scale":{"domain":[0,20.3],"nice":false,"zero":false},"axis":{"title":null,"format":"d","tickCount":100,"labelOverlap":false,"labelPadding":0,"labelFontSize":14,"tickSize":3,"values":[1,2,3,4,5,6,7,8,9,10,11,12,13,14,15,16,17,18,19,20],"labelExpr":"datum.value==1||datum.value==10||datum.value==20?datum.label:''"}},
"y":{"field":"y","type":"quantitative","scale":{"domain":[0,30],"nice":false},"axis":{"title":null,"domain":false,"format":"d","tickCount":100,"labelOverlap":false,"values":[0,2,4,6,8,10,12,14,16,18,20,22,24,26],"labelExpr":"datum.value%10==0?datum.label:''","tickSize":{"condition":{"test":"datum.value%10==0","value":5},"value":3}}},
"detail":{"field":"s","type":"nominal"}}},
{"data":{"values":[{}]},"mark":{"type":"rule","color":"black","strokeWidth":1},"encoding":{"x":{"datum":0},"y":{"datum":0},"y2":{"datum":26}}}
]}
]
}
